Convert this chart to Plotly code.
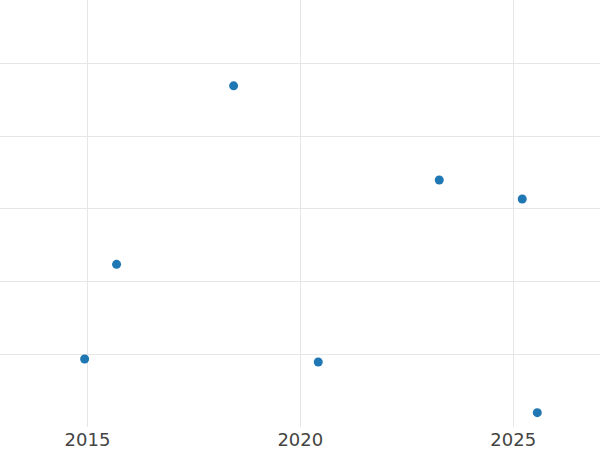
import plotly.graph_objects as go

dates = ["2014-12-08", "2015-09-08", "2018-06-08", "2020-06-03", "2023-04-07", "2025-03-19", "2025-07-26"]
values = [9.35, 22.36, 46.9, 8.93, 33.95, 31.34, 1.97]

fig = go.Figure(
    go.Scatter(
        x=dates,
        y=values,
        mode="markers",
        marker=dict(color="#1f77b4", size=9),
    )
)

fig.update_layout(
    width=600,
    height=450,
    margin=dict(l=0, r=0, t=0, b=23),
    plot_bgcolor="white",
    paper_bgcolor="white",
    showlegend=False,
    font=dict(family="DejaVu Sans", size=18, color="#444"),
)
fig.update_xaxes(
    type="date",
    range=["2012-12-12", "2027-01-15"],
    tickvals=["2015-01-01", "2020-01-01", "2025-01-01"],
    ticktext=["2015", "2020", "2025"],
    showgrid=True,
    gridcolor="#e6e6e6",
    gridwidth=1,
    zeroline=False,
    showline=False,
    automargin=False,
)
fig.update_yaxes(
    range=[0, 58.7],
    dtick=10,
    tick0=0,
    showgrid=True,
    gridcolor="#e6e6e6",
    gridwidth=1,
    zeroline=False,
    showline=False,
    showticklabels=False,
    automargin=False,
)

fig.write_html(
    "out.html",
    config={"displayModeBar": False},
    post_script="document.body.style.margin='0';document.body.style.overflow='hidden';",
)
